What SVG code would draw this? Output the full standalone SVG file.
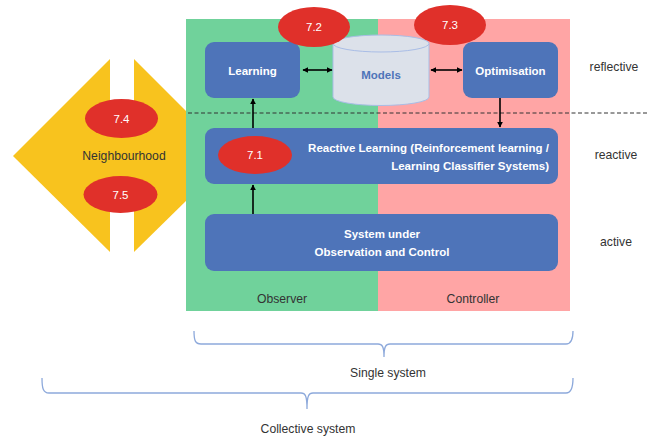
<svg xmlns="http://www.w3.org/2000/svg" width="649" height="438" viewBox="0 0 649 438">
<style>
text{font-family:"Liberation Sans",Arial,sans-serif;}
.box{fill:#4E74B9;}
.bt{fill:#fff;font-weight:bold;font-size:11.5px;}
.red{fill:#E0302A;}
.rt{fill:#fff;font-size:11.5px;text-anchor:middle;}
.lab{fill:#333;font-size:12.2px;text-anchor:middle;}
.ln{stroke:#000;stroke-width:1.6;fill:none;}
.brace{stroke:#8DA9DB;stroke-width:1.3;fill:none;}
</style>
<defs>
<marker id="ah" viewBox="0 0 10 10" refX="9" refY="5" markerWidth="6" markerHeight="6" orient="auto-start-reverse" markerUnits="userSpaceOnUse">
<path d="M0,0 L10,5 L0,10 z" fill="#000"/>
</marker>
</defs>
<rect width="649" height="438" fill="#fff"/>

<g id="neighbourhood">
<polygon points="13,156 110,59 134,59 188,113 188,199 134,252 110,252" fill="#F8C31E"/>
<rect x="110" y="55" width="24" height="60" fill="#fff"/>
<rect x="110" y="198" width="24" height="58" fill="#fff"/>
<text x="124" y="160" class="lab" fill="#333">Neighbourhood</text>
</g>

<g id="observer">
<rect x="186" y="19" width="192" height="292" fill="#70D29B"/>
<text x="282" y="303" class="lab">Observer</text>
</g>
<g id="controller">
<rect x="378" y="19" width="192" height="292" fill="#FFA5A5"/>
<text x="473" y="303" class="lab">Controller</text>
</g>

<line x1="188" y1="113" x2="649" y2="113" stroke="#333" stroke-width="1" stroke-dasharray="4,2.5"/>

<g id="learning">
<rect class="box" x="205" y="42" width="95" height="56" rx="9"/>
<text class="bt" x="252.5" y="75" text-anchor="middle">Learning</text>
</g>
<g id="models">
<path d="M333,43.5 V97 A48,8.5 0 0 0 429,97 V43.5 Z" fill="#DCE1EA" stroke="#A9BDE6" stroke-width="1"/>
<ellipse cx="381" cy="43.5" rx="48" ry="8.5" fill="#DCE1EA" stroke="#A9BDE6" stroke-width="1"/>
<text x="381" y="79" text-anchor="middle" font-size="11.5" font-weight="bold" fill="#4E74B9">Models</text>
</g>
<g id="optimisation">
<rect class="box" x="463" y="42" width="95" height="56" rx="9"/>
<text class="bt" x="510.5" y="75" text-anchor="middle">Optimisation</text>
</g>
<g id="reactive">
<rect class="box" x="205" y="128" width="353" height="56" rx="9"/>
<text class="bt" x="549" y="152" text-anchor="end">Reactive Learning (Reinforcement learning /</text>
<text class="bt" x="549" y="170" text-anchor="end">Learning Classifier Systems)</text>
</g>
<g id="suoc">
<rect class="box" x="205" y="214" width="353" height="57" rx="9"/>
<text class="bt" x="382" y="238" text-anchor="middle">System under</text>
<text class="bt" x="382" y="256" text-anchor="middle">Observation and Control</text>
</g>

<g id="connectors">
<line class="ln" x1="303" y1="70" x2="332" y2="70" marker-start="url(#ah)" marker-end="url(#ah)"/>
<line class="ln" x1="431" y1="70" x2="462" y2="70" marker-start="url(#ah)" marker-end="url(#ah)"/>
<line class="ln" x1="253" y1="128" x2="253" y2="99" marker-end="url(#ah)"/>
<line class="ln" x1="500" y1="98" x2="500" y2="127" marker-end="url(#ah)"/>
<line class="ln" x1="253" y1="214" x2="253" y2="185" marker-end="url(#ah)"/>
</g>

<g id="labels">
<g id="l72"><ellipse class="red" cx="314" cy="27" rx="36" ry="20"/><text class="rt" x="314" y="31">7.2</text></g>
<g id="l73"><ellipse class="red" cx="450" cy="25" rx="36" ry="20"/><text class="rt" x="450" y="29">7.3</text></g>
<g id="l71"><ellipse class="red" cx="255" cy="155" rx="37" ry="19"/><text class="rt" x="255" y="159">7.1</text></g>
<g id="l74"><ellipse class="red" cx="121.5" cy="118.5" rx="36.5" ry="19.5"/><text class="rt" x="121.5" y="122.5">7.4</text></g>
<g id="l75"><ellipse class="red" cx="120.5" cy="194.5" rx="37" ry="18.5"/><text class="rt" x="120.5" y="198.5">7.5</text></g>
</g>

<g id="layers">
<text class="lab" x="614" y="71">reflective</text>
<text class="lab" x="616" y="159">reactive</text>
<text class="lab" x="616" y="246">active</text>
</g>

<g id="braces">
<path class="brace" d="M194,331 C194,340 195,344 201,344 L378,344 C382,344 384,346 384,357 C384,346 386,344 390,344 L566,344 C571,344 573,340 573,331"/>
<text class="lab" x="388" y="377">Single system</text>
<path class="brace" d="M42,378 C42,388 43,393 49,393 L301,393 C305,393 307,395 307,409 C307,395 309,393 313,393 L566,393 C571,393 573,388 573,378"/>
<text class="lab" x="308" y="433">Collective system</text>
</g>
</svg>
